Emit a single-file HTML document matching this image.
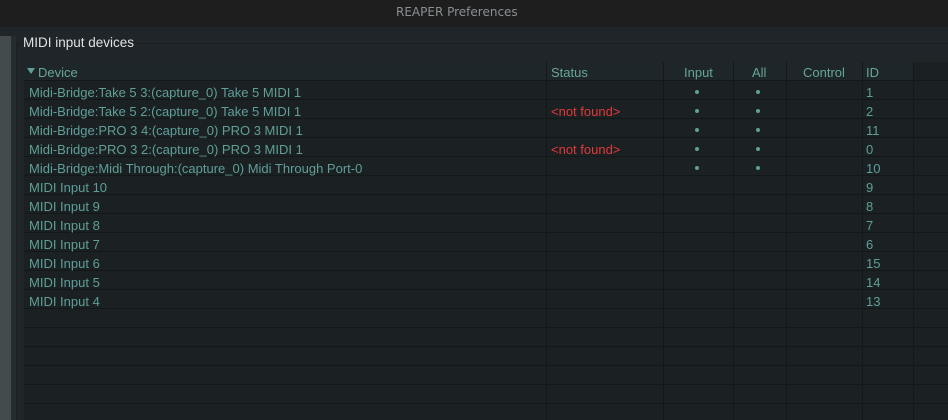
<!DOCTYPE html>
<html><head><meta charset="utf-8"><style>
*{margin:0;padding:0;box-sizing:border-box}
body{width:948px;height:420px;overflow:hidden;background:#1f2528;font-family:"Liberation Sans",sans-serif;position:relative}
.a{position:absolute}
.t{position:absolute;font-size:13px;line-height:19px;color:#5f9f98;white-space:nowrap;margin-top:1px}
.r{color:#e0393a}
.h{color:#66a59d}
.v{position:absolute;top:62px;height:358px;width:1px;background:#131819}
.d{position:absolute;width:4px;height:4px;border-radius:50%;background:#5f9f98}
</style></head><body>
<div class="a" style="left:0;top:0;width:948px;height:27px;background:#1e1e1e"></div>
<div class="a" style="left:396px;top:5px;font-family:'DejaVu Sans',sans-serif;font-size:12px;color:#8a8f92;white-space:nowrap">REAPER Preferences</div>
<div class="a" style="left:0;top:36px;width:11px;height:384px;background:#434b4d"></div>
<div class="a" style="left:11px;top:36px;width:5px;height:384px;background:#262d30"></div>
<div class="a" style="left:16px;top:43px;width:932px;height:1px;background:#1a1f21"></div>
<div class="a" style="left:16px;top:43px;width:1px;height:377px;background:#1a1f21"></div>
<div class="a" style="left:21px;top:35px;font-size:13.5px;color:#e2e2e2;background:#1f2528;padding:0 2px">MIDI input devices</div>
<div class="a" style="left:24px;top:62px;width:924px;height:358px;background:#1b2023"></div>
<div class="a" style="left:24px;top:62px;width:889px;height:19px;background:#1f2629"></div>
<div class="a" style="left:24px;top:80px;width:924px;height:340px;background:repeating-linear-gradient(to bottom,#121718 0,#121718 1px,transparent 1px,transparent 19px)"></div>
<div class="v" style="left:546px"></div><div class="v" style="left:663px"></div><div class="v" style="left:733px"></div><div class="v" style="left:786px"></div><div class="v" style="left:862px"></div><div class="v" style="left:913px"></div>
<div class="a" style="left:27px;top:68px;width:0;height:0;border-left:4px solid transparent;border-right:4px solid transparent;border-top:6px solid #5f9f98"></div>
<div class="t h" style="left:38px;top:62px">Device</div>
<div class="t h" style="left:551px;top:62px">Status</div>
<div class="t h" style="left:684px;top:62px">Input</div>
<div class="t h" style="left:752px;top:62px">All</div>
<div class="t h" style="left:803px;top:62px">Control</div>
<div class="t h" style="left:866px;top:62px">ID</div>

<div class="t" style="left:29px;top:82px">Midi-Bridge:Take 5 3:(capture_0) Take 5 MIDI 1</div>
<div class="t" style="left:29px;top:101px">Midi-Bridge:Take 5 2:(capture_0) Take 5 MIDI 1</div>
<div class="t" style="left:29px;top:120px">Midi-Bridge:PRO 3 4:(capture_0) PRO 3 MIDI 1</div>
<div class="t" style="left:29px;top:139px">Midi-Bridge:PRO 3 2:(capture_0) PRO 3 MIDI 1</div>
<div class="t" style="left:29px;top:158px">Midi-Bridge:Midi Through:(capture_0) Midi Through Port-0</div>
<div class="t" style="left:29px;top:177px">MIDI Input 10</div>
<div class="t" style="left:29px;top:196px">MIDI Input 9</div>
<div class="t" style="left:29px;top:215px">MIDI Input 8</div>
<div class="t" style="left:29px;top:234px">MIDI Input 7</div>
<div class="t" style="left:29px;top:253px">MIDI Input 6</div>
<div class="t" style="left:29px;top:272px">MIDI Input 5</div>
<div class="t" style="left:29px;top:291px">MIDI Input 4</div>

<div class="t r" style="left:551px;top:101px">&lt;not found&gt;</div>
<div class="t r" style="left:551px;top:139px">&lt;not found&gt;</div>

<div class="d" style="left:695px;top:90px"></div><div class="d" style="left:756px;top:90px"></div>
<div class="d" style="left:695px;top:109px"></div><div class="d" style="left:756px;top:109px"></div>
<div class="d" style="left:695px;top:128px"></div><div class="d" style="left:756px;top:128px"></div>
<div class="d" style="left:695px;top:147px"></div><div class="d" style="left:756px;top:147px"></div>
<div class="d" style="left:695px;top:166px"></div><div class="d" style="left:756px;top:166px"></div>

<div class="t" style="left:866px;top:82px">1</div>
<div class="t" style="left:866px;top:101px">2</div>
<div class="t" style="left:866px;top:120px">11</div>
<div class="t" style="left:866px;top:139px">0</div>
<div class="t" style="left:866px;top:158px">10</div>
<div class="t" style="left:866px;top:177px">9</div>
<div class="t" style="left:866px;top:196px">8</div>
<div class="t" style="left:866px;top:215px">7</div>
<div class="t" style="left:866px;top:234px">6</div>
<div class="t" style="left:866px;top:253px">15</div>
<div class="t" style="left:866px;top:272px">14</div>
<div class="t" style="left:866px;top:291px">13</div>
</body></html>
